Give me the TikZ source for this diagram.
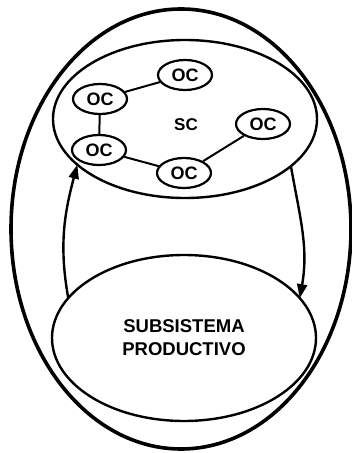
\documentclass[tikz,border=0pt]{standalone}
\usepackage{fontspec}
\setmainfont{Liberation Sans}
\usetikzlibrary{positioning, shapes.geometric, arrows.meta}

\begin{document}
\begin{tikzpicture}[x=1pt, y=1pt,
        bignode/.style={ellipse, draw, line width=2.4pt, inner sep=0pt, outer sep=0pt},
        ocnode/.style={ellipse, draw, line width=2.2pt, minimum width=54pt, minimum height=30pt, inner sep=0pt, font=\bfseries\fontsize{18}{18}\selectfont},
        link/.style={line width=2pt},
        flow/.style={line width=2.4pt, -{Triangle[length=14pt, width=10pt]}}
    ]
    \useasboundingbox (0,0) rectangle (352,453);
    \node[bignode, line width=3.6pt, minimum width=340pt, minimum height=440pt] (outer) at (181,224) {};
    \node[bignode, minimum width=264pt, minimum height=158pt] (sc) at (185,334) {};
    \node[font=\bfseries\fontsize{17}{17}\selectfont] (sclabel) at (186,328) {SC};
    \node[bignode, minimum width=264pt, minimum height=166pt, align=center,
        font=\bfseries\fontsize{18.5}{23}\selectfont] (sp) at (184,115) {SUBSISTEMA\\PRODUCTIVO};
    \node[ocnode] (oc1) at (185,378) {OC};
    \node[ocnode] (oc2) at (100,354) {OC};
    \node[ocnode] (oc3) at (99,303) {OC};
    \node[ocnode] (oc4) at (184,280) {OC};
    \node[ocnode] (oc5) at (263,329) {OC};
    \draw[link] (oc2) -- (oc1);
    \draw[link] (oc2) -- (oc3);
    \draw[link] (oc3) -- (oc4);
    \draw[link] (oc4) -- (oc5);
    \draw[flow] (sp.161) to[out=100, in=255] (sc.203);
    \draw[flow] (sc.336) to[out=-80, in=80] (sp.19);
\end{tikzpicture}
\end{document}
